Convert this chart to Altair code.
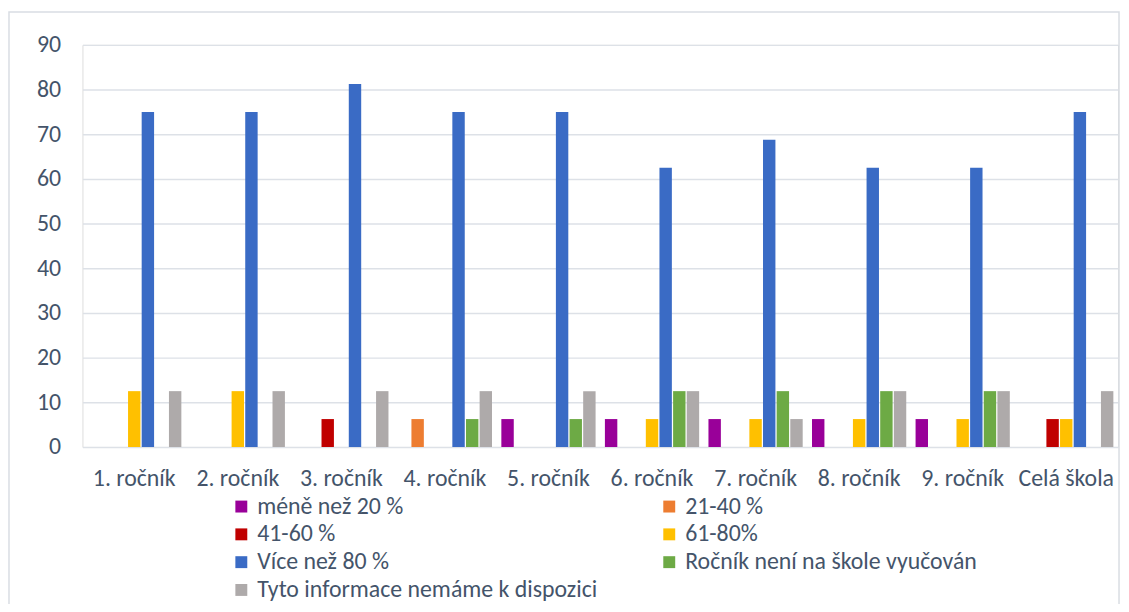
import altair as alt
import pandas as pd

categories = ["1. ročník", "2. ročník", "3. ročník", "4. ročník", "5. ročník",
              "6. ročník", "7. ročník", "8. ročník", "9. ročník", "Celá škola"]
series = ["méně než 20 %", "21-40 %", "41-60 %", "61-80%", "Více než 80 %",
          "Ročník není na škole vyučován", "Tyto informace nemáme k dispozici"]
colors = ["#990099", "#ED7D31", "#C00000", "#FFC000", "#3A6BC5", "#6DAA45", "#AEAAAA"]

mene_nez_20 = [0, 0, 0, 0, 6.25, 6.25, 6.25, 6.25, 6.25, 0]
p21_40 = [0, 0, 0, 6.25, 0, 0, 0, 0, 0, 0]
p41_60 = [0, 0, 6.25, 0, 0, 0, 0, 0, 0, 6.25]
p61_80 = [12.5, 12.5, 0, 0, 0, 6.25, 6.25, 6.25, 6.25, 6.25]
vice_nez_80 = [75, 75, 81.25, 75, 75, 62.5, 68.75, 62.5, 62.5, 75]
neni_vyucovan = [0, 0, 0, 6.25, 6.25, 12.5, 12.5, 12.5, 12.5, 0]
nemame_info = [12.5, 12.5, 12.5, 12.5, 12.5, 12.5, 6.25, 12.5, 12.5, 12.5]

values = [mene_nez_20, p21_40, p41_60, p61_80, vice_nez_80, neni_vyucovan, nemame_info]
rows = []
for s, vals in zip(series, values):
    for c, v in zip(categories, vals):
        rows.append({"kategorie": c, "serie": s, "hodnota": v})
df = pd.DataFrame(rows)

FONT = "Carlito, Calibri, 'Liberation Sans', sans-serif"
TXT = "#44546A"
FS = 24

bars = alt.Chart(df).transform_filter("datum.hodnota > 0").mark_bar().encode(
    x=alt.X("kategorie:N", sort=categories, title=None,
            scale=alt.Scale(paddingInner=0.09, paddingOuter=0.045),
            axis=alt.Axis(labelAngle=0, domain=False, ticks=False, labelPadding=20,
                          labelFontSize=FS, labelColor=TXT, labelFont=FONT)),
    xOffset=alt.XOffset("serie:N", sort=series,
                        scale=alt.Scale(domain=series, paddingInner=0.09, paddingOuter=0)),
    y=alt.Y("hodnota:Q", title=None,
            scale=alt.Scale(domain=[0, 90], nice=False),
            axis=alt.Axis(values=list(range(0, 100, 10)), domain=False, ticks=False,
                          labelPadding=22, labelFontSize=FS, labelColor=TXT, labelFont=FONT,
                          gridColor="#DDE1E7", gridWidth=1.5)),
    color=alt.Color("serie:N", sort=series,
                    scale=alt.Scale(domain=series, range=colors),
                    legend=alt.Legend(title=None, orient="none", legendX=148, legendY=453,
                                      direction="horizontal",
                                      columns=2, columnPadding=60, rowPadding=4,
                                      symbolType="square", symbolSize=144,
                                      symbolStrokeWidth=0, labelFontSize=FS,
                                      labelFont=FONT, labelColor=TXT, labelLimit=600,
                                      padding=0, labelOffset=4)),
)

frame = alt.Chart(pd.DataFrame({"k": [0]})).mark_rect(
    fill=None, stroke="#D9DDE3", strokeWidth=1.5
).encode(x=alt.value(-74), x2=alt.value(1044), y=alt.value(-33), y2=alt.value(570))

chart = alt.layer(frame, bars).properties(
    width=1043, height=405,
    autosize=alt.AutoSizeParams(type="none"),
    padding={"left": 75, "top": 35, "right": 3, "bottom": 156},
).configure_view(stroke=None).configure(background="white")

chart.save("out.html", embed_options={"renderer": "svg", "actions": False})
